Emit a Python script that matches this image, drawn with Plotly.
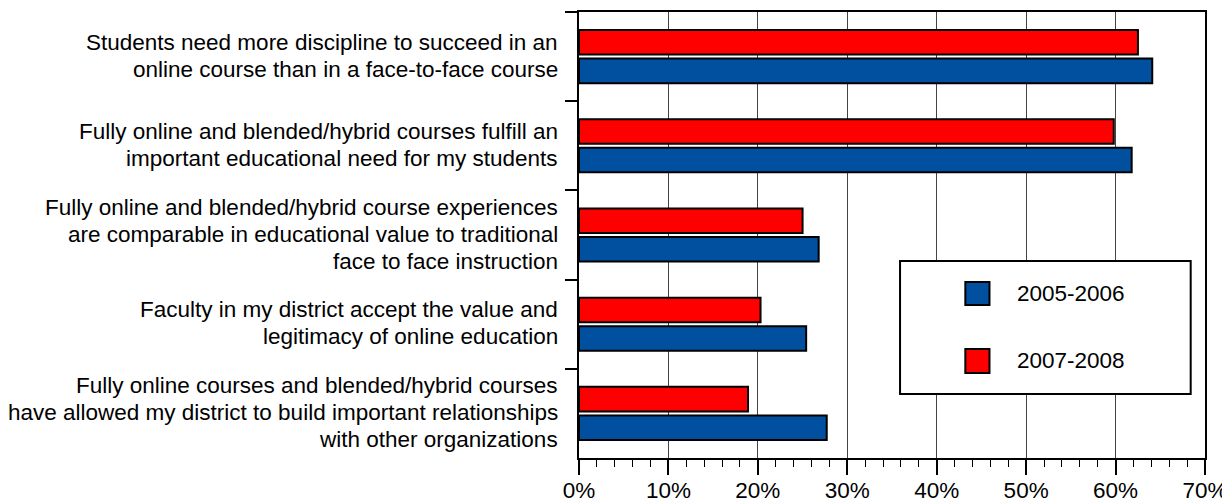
import plotly.graph_objects as go

# survey statements (one list entry per line of the label)
statements = [
    ["Students need more discipline to succeed in an",
     "online course than in a face-to-face course"],
    ["Fully online and blended/hybrid courses fulfill an",
     "important educational need for my students"],
    ["Fully online and blended/hybrid course experiences",
     "are comparable in educational value to traditional",
     "face to face instruction"],
    ["Faculty in my district accept the value and",
     "legitimacy of online education"],
    ["Fully online courses and blended/hybrid courses",
     "have allowed my district to build important relationships",
     "with other organizations"],
]
categories = [" ".join(s) for s in statements]

series_names = ["2005-2006", "2007-2008"]
values_2005_2006 = [64.1, 61.8, 26.8, 25.4, 27.7]
values_2007_2008 = [62.5, 59.8, 25.0, 20.3, 18.9]
series_colors = ["#00509F", "#FF0000"]

x_ticks = [0, 10, 20, 30, 40, 50, 60, 70]

FONT = "Liberation Sans, Arial, sans-serif"
FSIZE = 22.5

fig = go.Figure()
# red first so it sits above the blue bar in each group (axis is reversed)
for name, vals, col in reversed(list(zip(series_names, [values_2005_2006, values_2007_2008], series_colors))):
    fig.add_trace(go.Bar(
        y=categories, x=vals, name=name, orientation="h",
        marker=dict(color=col, line=dict(color="black", width=2)),
        showlegend=False,
    ))

# category labels, one annotation per line so the line spacing stays tight
annotations = []
line_step = 27
for cat, lines in zip(categories, statements):
    n = len(lines)
    for k, txt in enumerate(lines):
        annotations.append(dict(
            xref="paper", x=0, yref="y", y=cat,
            text=txt, showarrow=False, xanchor="right", yanchor="middle",
            xshift=-19, yshift=((n - 1) / 2 - k) * line_step + 1,
            font=dict(family=FONT, size=FSIZE, color="black"),
        ))

# legend drawn by hand so the box and swatches match the original size
shapes = [dict(type="rect", xref="x", yref="paper", x0=35.9, x1=68.4, y0=0.1435, y1=0.4417,
               line=dict(color="black", width=2), fillcolor="white", layer="above")]
legend_rows = [(0.3946, 0.3430), (0.2444, 0.1906)]
for (top, bot), name, col in zip(legend_rows, series_names, series_colors):
    shapes.append(dict(type="rect", xref="x", yref="paper", x0=43.2, x1=45.9, y0=bot, y1=top,
                       line=dict(color="black", width=2), fillcolor=col, layer="above"))
    annotations.append(dict(xref="x", x=48.7, yref="paper", y=(top + bot) / 2,
                            text=name, showarrow=False, xanchor="left", yanchor="middle",
                            font=dict(family=FONT, size=FSIZE, color="black")))

# the page body adds an 8px offset, so the figure is 8px smaller than the window
fig.update_layout(
    width=1222, height=494,
    margin=dict(l=571, r=25, t=4, b=44),
    paper_bgcolor="white", plot_bgcolor="white",
    barmode="group", bargap=0.36, bargroupgap=0.14,
    font=dict(family=FONT, size=FSIZE, color="black"),
    annotations=annotations, shapes=shapes,
)
fig.update_xaxes(
    range=[0, 70], tickvals=x_ticks, ticktext=[f"{t}%" for t in x_ticks],
    showgrid=True, gridcolor="#444444", gridwidth=1,
    showline=True, mirror=True, linecolor="black", linewidth=2,
    ticks="outside", ticklen=15, tickwidth=1.5, tickcolor="black",
    ticklabelstandoff=-4,
    minor=dict(dtick=2, ticks="outside", ticklen=7, tickwidth=1, tickcolor="black", showgrid=False),
    zeroline=False, fixedrange=True, automargin=False,
    tickfont=dict(family=FONT, size=FSIZE, color="black"),
)
fig.update_yaxes(
    type="category", categoryorder="array", categoryarray=categories,
    autorange="reversed", showticklabels=False,
    ticks="outside", tickson="boundaries", ticklen=12, tickwidth=1.5, tickcolor="black",
    showgrid=False, showline=True, mirror=True, linecolor="black", linewidth=2,
    fixedrange=True, automargin=False,
)

fig.write_html("out.html")
